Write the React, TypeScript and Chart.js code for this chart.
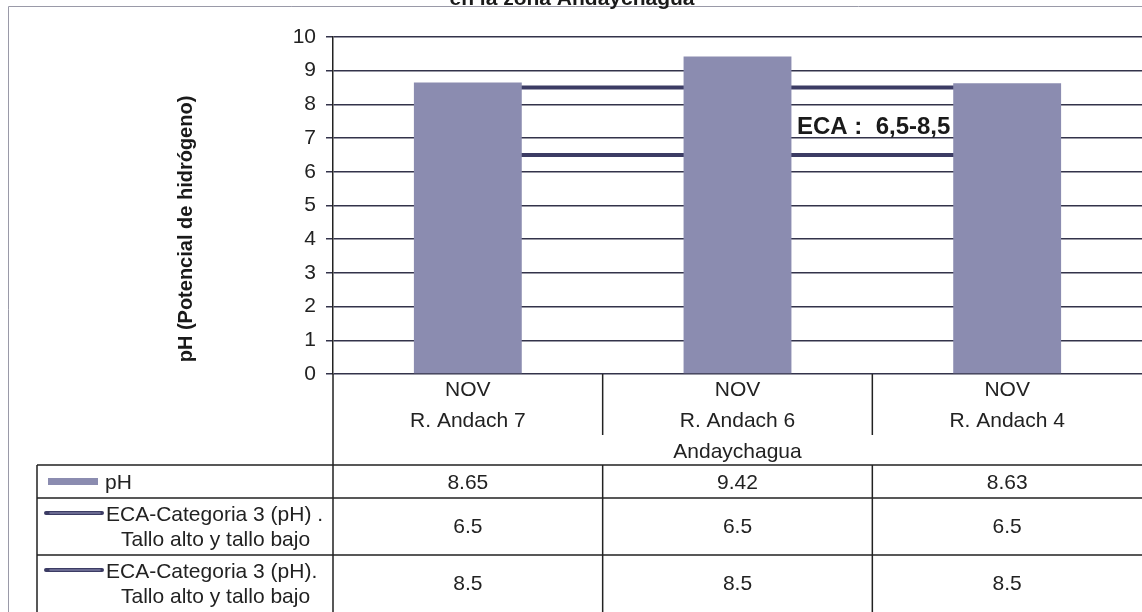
import React, { useEffect, useRef } from 'react';
import { Chart, registerables } from 'chart.js';

Chart.register(...registerables);

// ---- data ----
const titleText = 'en la zona Andaychagua';
const yAxisTitle = 'pH (Potencial de hidrógeno)';
const monthLabels = ['NOV', 'NOV', 'NOV'];
const stations = ['R. Andach 7', 'R. Andach 6', 'R. Andach 4'];
const groupLabel = 'Andaychagua';
const phValues = [8.65, 9.42, 8.63];
const ecaLow = [6.5, 6.5, 6.5];
const ecaHigh = [8.5, 8.5, 8.5];
const seriesPh = 'pH';
const seriesLow = ['ECA-Categoria 3 (pH) .', 'Tallo alto y tallo bajo'];
const seriesHigh = ['ECA-Categoria 3 (pH).', 'Tallo alto y tallo bajo'];
const ecaLabel = 'ECA :  6,5-8,5';
const yMin = 0;
const yMax = 10;
const yStep = 1;

const FONT = 'Arial, "Liberation Sans", sans-serif';
const BAR = '#8b8cb0';
const LINE = '#3c3c64';
const INK = '#222222';
const GRID = '#33334a';

const tablePlugin = {
  id: 'tablePlugin',
  afterDatasetsDraw(chart: any) {
    const ctx = chart.ctx;
    ctx.save();
    ctx.fillStyle = '#1a1a1a';
    ctx.font = `bold 24px ${FONT}`;
    ctx.textAlign = 'left';
    ctx.textBaseline = 'alphabetic';
    ctx.fillText(ecaLabel, 797, 134);
    ctx.restore();
  },
  afterDraw(chart: any) {
    const ctx = chart.ctx;
    const xs = chart.scales.x;
    const area = chart.chartArea;
    const W = chart.width;
    const H = chart.height;
    ctx.save();

    // outer frame
    ctx.strokeStyle = '#9a9aa8';
    ctx.lineWidth = 1;
    ctx.beginPath();
    ctx.moveTo(8.5, H);
    ctx.lineTo(8.5, 6.5);
    ctx.lineTo(W, 6.5);
    ctx.stroke();

    // title (cut off at top)
    ctx.fillStyle = '#1a1a1a';
    ctx.font = `bold 21px ${FONT}`;
    ctx.textAlign = 'center';
    ctx.textBaseline = 'alphabetic';
    ctx.fillText(titleText, 572, 5);

    // y axis title
    ctx.save();
    ctx.translate(186, 229);
    ctx.rotate(-Math.PI / 2);
    ctx.font = `bold 20px ${FONT}`;
    ctx.fillStyle = '#1a1a1a';
    ctx.textAlign = 'center';
    ctx.textBaseline = 'middle';
    ctx.fillText(yAxisTitle, 0, 0);
    ctx.restore();

    // table lines
    const left = area.left;
    const tTop = 465;
    const r1 = 498;
    const r2 = 555;
    const tLeft = 37;
    ctx.strokeStyle = INK;
    ctx.lineWidth = 1.5;
    ctx.beginPath();
    ctx.moveTo(left, area.bottom);
    ctx.lineTo(left, H);
    [tTop, r1, r2].forEach((yy) => {
      ctx.moveTo(tLeft, yy);
      ctx.lineTo(W, yy);
    });
    ctx.moveTo(tLeft, tTop);
    ctx.lineTo(tLeft, H);
    for (let i = 0; i < stations.length - 1; i++) {
      const bx = xs.getPixelForValue(i + 0.5);
      ctx.moveTo(bx, area.bottom);
      ctx.lineTo(bx, 435);
      ctx.moveTo(bx, tTop);
      ctx.lineTo(bx, H);
    }
    ctx.stroke();

    // category labels and values
    ctx.fillStyle = INK;
    ctx.font = `21px ${FONT}`;
    ctx.textAlign = 'center';
    ctx.textBaseline = 'middle';
    for (let i = 0; i < stations.length; i++) {
      const cx = xs.getPixelForValue(i);
      ctx.fillText(monthLabels[i], cx, 390);
      ctx.fillText(stations[i], cx, 421);
      ctx.fillText(String(phValues[i]), cx, 483);
      ctx.fillText(String(ecaLow[i]), cx, 527);
      ctx.fillText(String(ecaHigh[i]), cx, 584);
    }
    ctx.fillText(groupLabel, (area.left + area.right) / 2, 452);

    // series legend cells
    ctx.fillStyle = BAR;
    ctx.fillRect(48, 478, 50, 7);
    ctx.strokeStyle = LINE;
    ctx.lineWidth = 4;
    ctx.lineCap = 'round';
    ctx.beginPath();
    ctx.moveTo(46, 513);
    ctx.lineTo(102, 513);
    ctx.moveTo(46, 570);
    ctx.lineTo(102, 570);
    ctx.stroke();
    ctx.strokeStyle = '#7a7aa0';
    ctx.lineWidth = 1.5;
    ctx.beginPath();
    ctx.moveTo(50, 513);
    ctx.lineTo(100, 513);
    ctx.moveTo(50, 570);
    ctx.lineTo(100, 570);
    ctx.stroke();

    ctx.fillStyle = INK;
    ctx.textAlign = 'left';
    ctx.fillText(seriesPh, 105, 483);
    ctx.fillText(seriesLow[0], 106, 515);
    ctx.fillText(seriesLow[1], 121, 540);
    ctx.fillText(seriesHigh[0], 106, 572);
    ctx.fillText(seriesHigh[1], 121, 597);

    ctx.restore();
  },
};

export default function App() {
  const ref = useRef<HTMLCanvasElement | null>(null);

  useEffect(() => {
    document.body.style.margin = '0';
    const canvas = ref.current;
    if (!canvas) return;
    const chart = new Chart(canvas, {
      type: 'bar',
      data: {
        labels: stations,
        datasets: [
          {
            type: 'bar',
            label: seriesPh,
            data: phValues,
            backgroundColor: BAR,
            borderWidth: 0,
            barPercentage: 0.4,
            categoryPercentage: 1,
            order: 0,
          },
          {
            type: 'line',
            label: seriesLow.join(' '),
            data: ecaLow,
            borderColor: LINE,
            borderWidth: 4,
            pointRadius: 0,
            fill: false,
            order: 1,
          },
          {
            type: 'line',
            label: seriesHigh.join(' '),
            data: ecaHigh,
            borderColor: LINE,
            borderWidth: 4,
            pointRadius: 0,
            fill: false,
            order: 1,
          },
        ],
      },
      options: {
        responsive: false,
        animation: false,
        devicePixelRatio: 1,
        layout: { padding: { left: 0, right: 0, top: 37, bottom: 238 } },
        plugins: {
          legend: { display: false },
          tooltip: { enabled: false },
          title: { display: false },
        },
        scales: {
          x: {
            type: 'category',
            display: false,
            offset: true,
          },
          y: {
            min: yMin,
            max: yMax,
            afterFit: (scale: any) => {
              scale.width = 333;
            },
            ticks: {
              stepSize: yStep,
              color: INK,
              font: { family: FONT, size: 21 },
              padding: 10,
            },
            grid: {
              color: GRID,
              lineWidth: 1.5,
              tickLength: 7,
              tickColor: GRID,
              drawTicks: true,
            },
            border: { display: true, color: INK, width: 1.5 },
          },
        },
      },
      plugins: [tablePlugin],
    });
    return () => chart.destroy();
  }, []);

  return (
    <div style={{ position: 'fixed', left: 0, top: 0, width: 1142, height: 612, background: '#fff' }}>
      <canvas ref={ref} width={1142} height={612} style={{ width: 1142, height: 612, display: 'block' }} />
    </div>
  );
}
